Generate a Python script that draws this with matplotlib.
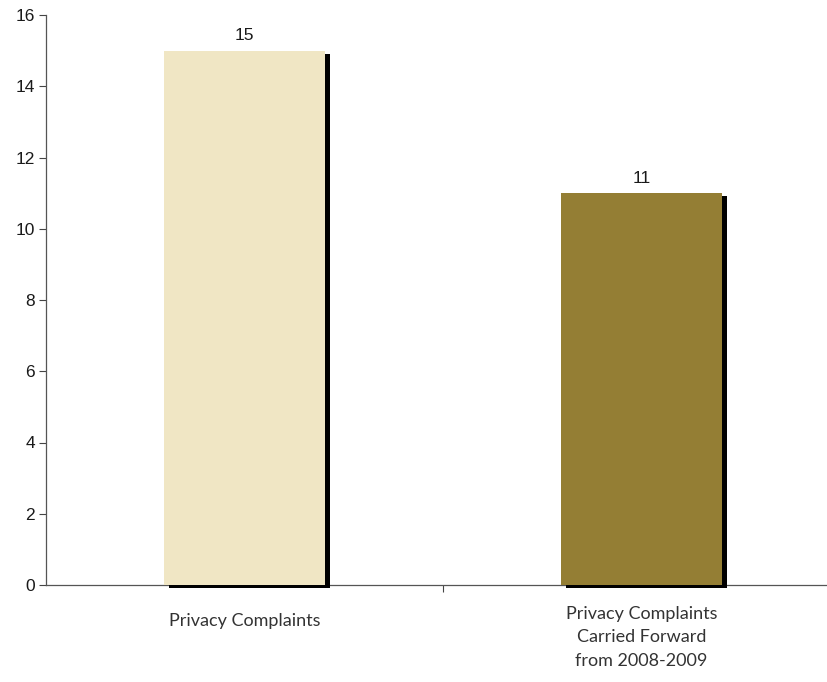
import matplotlib
matplotlib.use("Agg")
import matplotlib.pyplot as plt
import matplotlib.patheffects as path_effects

categories = ["Privacy Complaints",
              "Privacy Complaints\nCarried Forward\nfrom 2008-2009"]
values = [15, 11]
colors = ["#F0E6C4", "#947E34"]
yticks = [0, 2, 4, 6, 8, 10, 12, 14, 16]

plt.rcParams["font.family"] = ["Liberation Sans", "DejaVu Sans"]

W, H = 827, 682
fig = plt.figure(figsize=(W / 100, H / 100), dpi=100)
# plot area: y axis at x=46px, zero at 585px, top at 15px; right edge runs off the figure
ax = fig.add_axes([46 / W, (H - 585) / H, (840 - 46) / W, (585 - 15) / H])

_shadow = path_effects.SimplePatchShadow(offset=(3.5, -2.2), shadow_rgbFace="black", alpha=1.0)
bars = ax.bar(range(len(values)), values, width=0.405, color=colors,
              path_effects=[_shadow, path_effects.Normal()], zorder=3, clip_on=False)

for i, v in enumerate(values):
    ax.text(i, v + 0.2, str(v), ha="center", va="bottom",
            fontsize=12.5, color="#1a1a1a")

ax.set_xlim(-0.5, 1.5)
ax.set_ylim(0, 16)
ax.set_yticks(yticks)
ax.set_yticklabels([str(t) for t in yticks], fontsize=12.5, color="#1a1a1a")
ax.set_xticks([0.5])
ax.set_xticklabels([""])
ax.tick_params(axis="y", length=5, width=0.8, color="#444444", pad=3)
ax.tick_params(axis="x", length=5, width=0.8, color="#444444")

# category labels sit a little lower when they are a single line
label_tops = [-0.78, -0.58]
for i, lab in enumerate(categories):
    ax.text(i, label_tops[i], lab, ha="center", va="top", family="Lato", fontsize=13,
            color="#333333", linespacing=1.6)

for s in ("top", "right"):
    ax.spines[s].set_visible(False)
for s in ("left", "bottom"):
    ax.spines[s].set_color("#555555")
    ax.spines[s].set_linewidth(0.9)

fig.savefig("out.png", dpi=100)
